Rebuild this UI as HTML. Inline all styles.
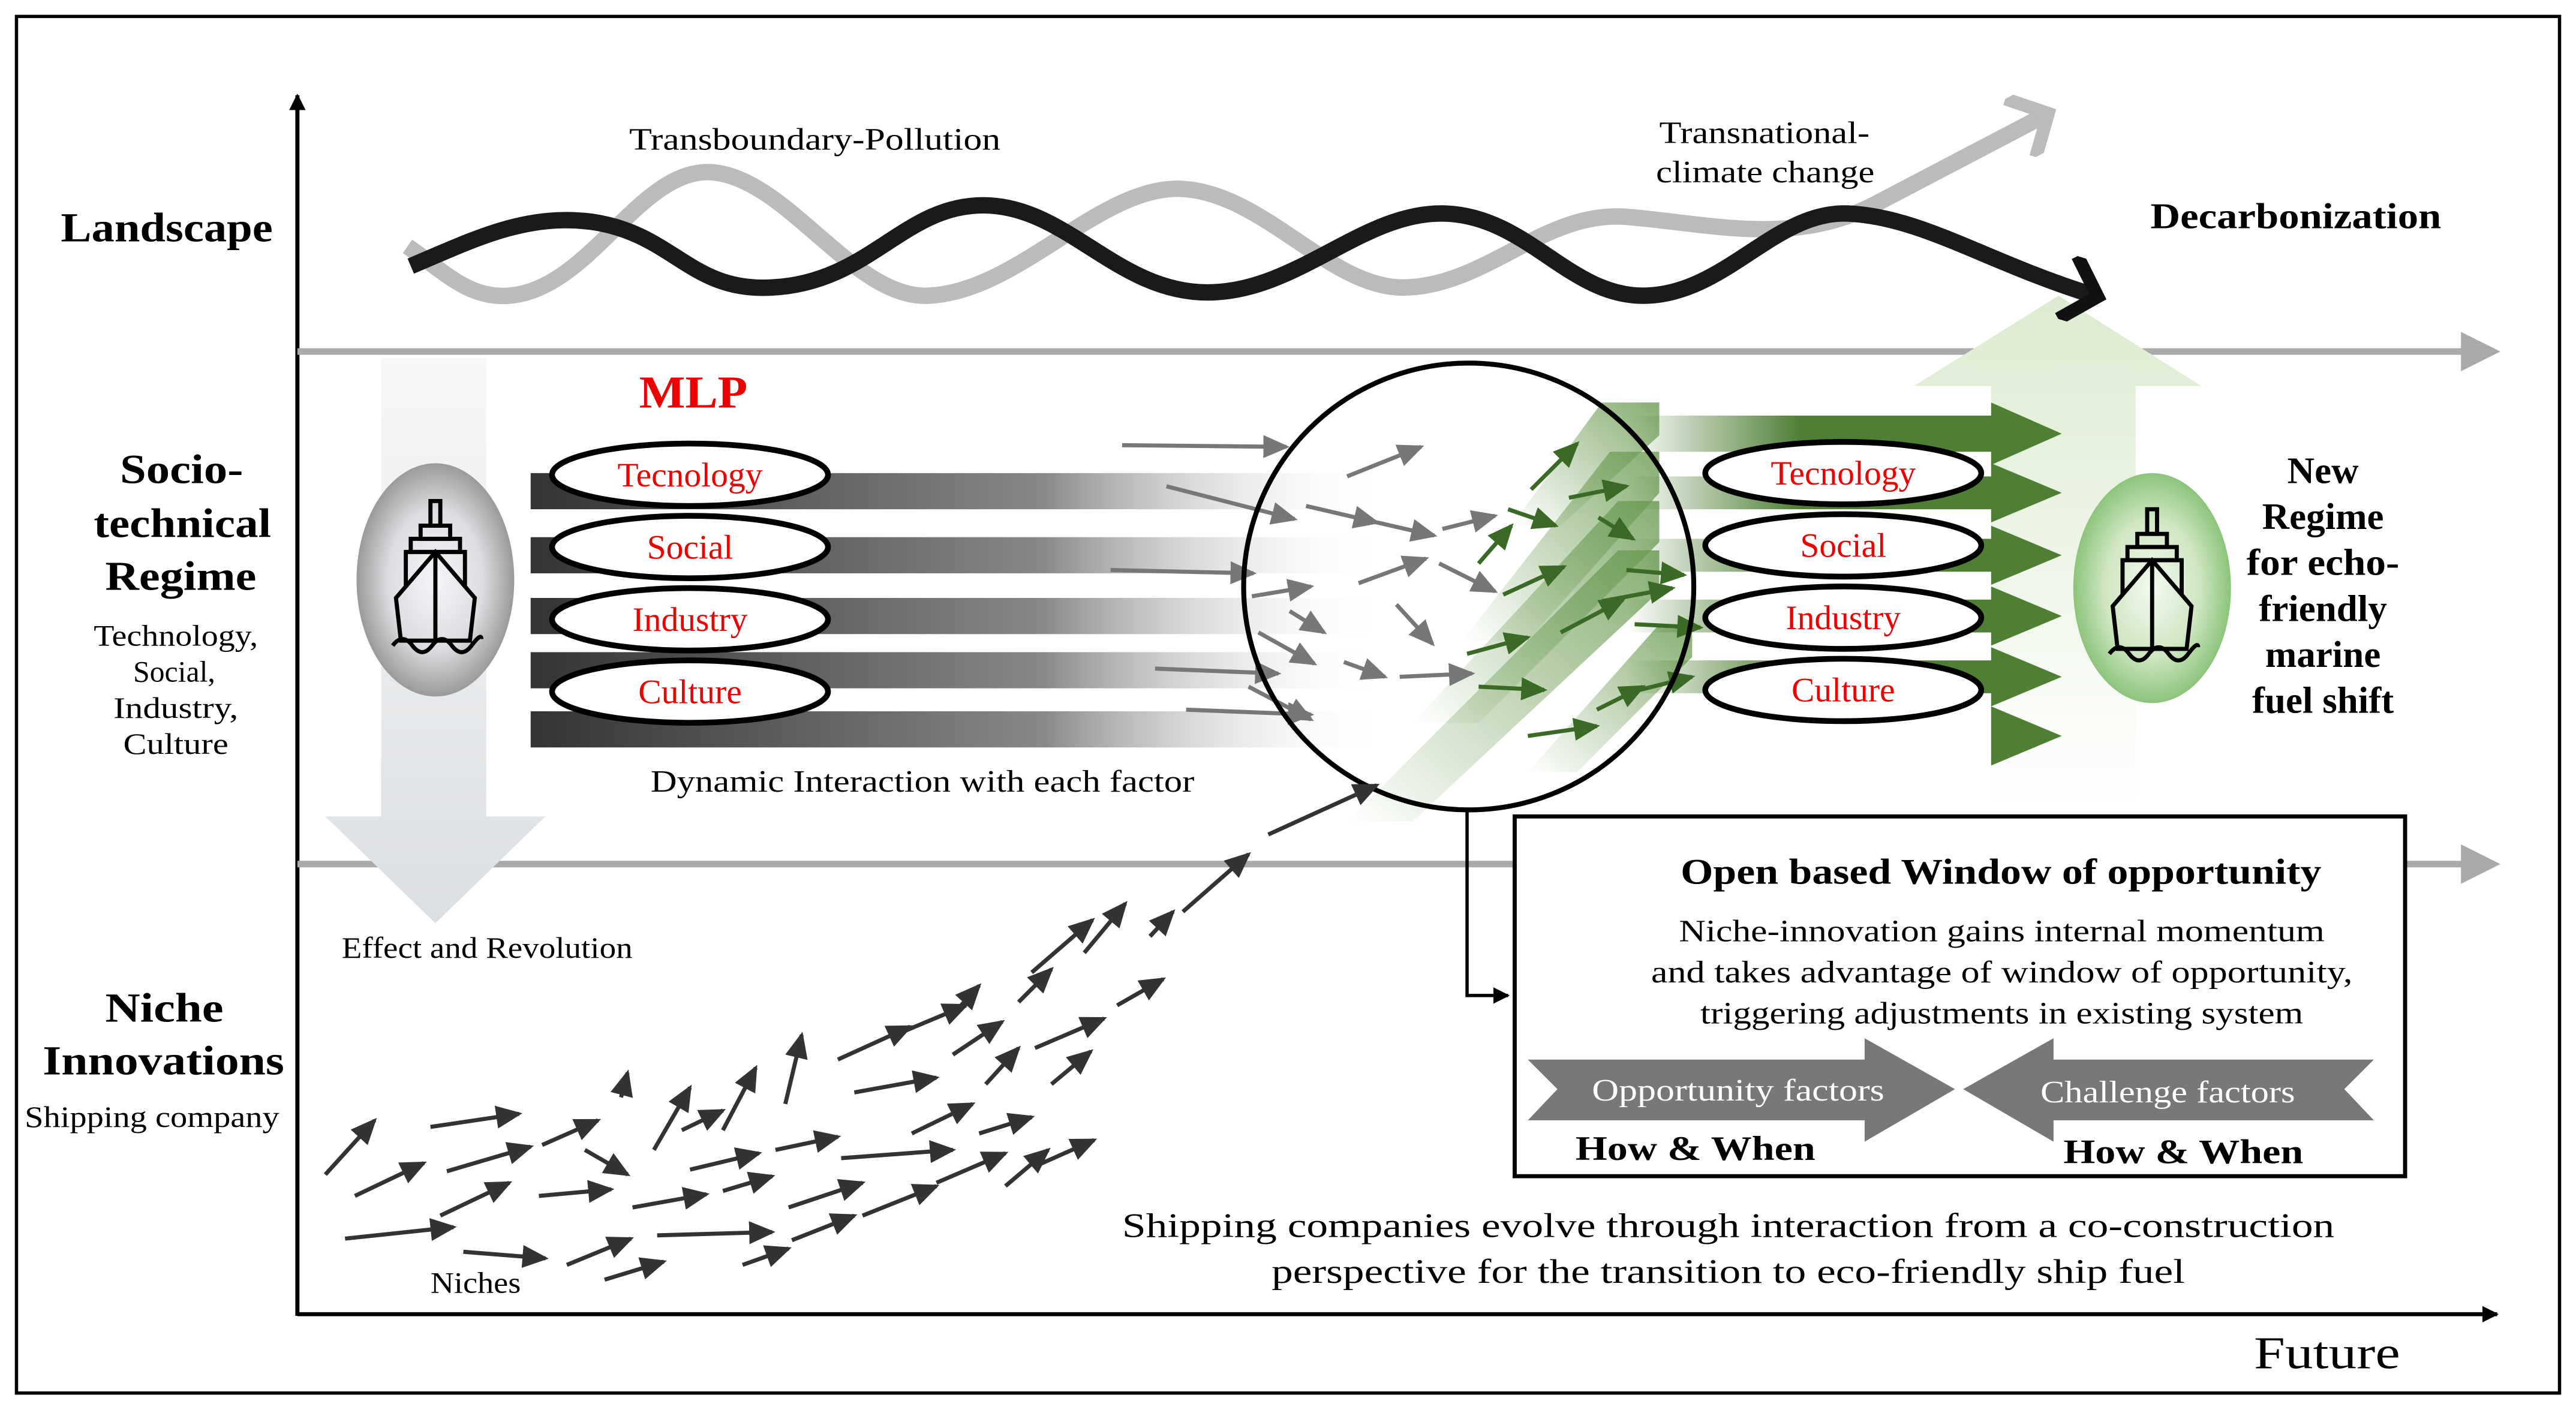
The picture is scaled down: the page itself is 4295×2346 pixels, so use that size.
<!DOCTYPE html>
<html><head><meta charset="utf-8"><style>html,body{margin:0;padding:0;background:#fff}svg{display:block}text{font-family:"Liberation Serif",serif}</style></head><body>
<svg width="4295" height="2346" viewBox="0 0 1568 856.5" xmlns="http://www.w3.org/2000/svg">
<defs>
<marker id="ak" markerWidth="10" markerHeight="10" refX="9" refY="5" orient="auto" markerUnits="userSpaceOnUse" viewBox="0 0 10 10"><path d="M0,0 L10,5 L0,10 z" fill="#000"/></marker>
<marker id="ag" markerWidth="6" markerHeight="6" refX="5" refY="3" orient="auto" viewBox="0 0 6 6"><path d="M0,0 L6,3 L0,6 z" fill="#aaa"/></marker>
<marker id="ad" markerWidth="16" markerHeight="14" refX="14" refY="7" orient="auto" markerUnits="userSpaceOnUse" viewBox="0 0 16 14"><path d="M0,0 L16,7 L0,14 z" fill="#333"/></marker>
<marker id="am" markerWidth="16" markerHeight="14" refX="14" refY="7" orient="auto" markerUnits="userSpaceOnUse" viewBox="0 0 16 14"><path d="M0,0 L16,7 L0,14 z" fill="#777"/></marker>
<marker id="agr" markerWidth="16" markerHeight="14" refX="14" refY="7" orient="auto" markerUnits="userSpaceOnUse" viewBox="0 0 16 14"><path d="M0,0 L16,7 L0,14 z" fill="#3a6a25"/></marker>
<marker id="wb" markerWidth="4" markerHeight="4" refX="2" refY="2" orient="auto" viewBox="0 0 4 4"><path d="M0.3,0 L2.2,2 L0.3,4" fill="none" stroke="#111" stroke-width="0.8"/></marker>
<marker id="wg" markerWidth="4" markerHeight="4" refX="2" refY="2" orient="auto" viewBox="0 0 4 4"><path d="M0.3,0 L2.2,2 L0.3,4" fill="none" stroke="#bbb" stroke-width="0.8"/></marker>
<linearGradient id="gbar" x1="0" x2="1"><stop offset="0" stop-color="#333"/><stop offset="0.6" stop-color="#888"/><stop offset="1" stop-color="#fff" stop-opacity="0"/></linearGradient>
<linearGradient id="gdown" x1="0" y1="0" x2="0" y2="1"><stop offset="0" stop-color="#f6f7f8"/><stop offset="1" stop-color="#dcdfe2"/></linearGradient>
<linearGradient id="gup" x1="0" y1="1" x2="0" y2="0"><stop offset="0" stop-color="#fff"/><stop offset="1" stop-color="#dcebd0"/></linearGradient>
<linearGradient id="ggr" x1="0" x2="1"><stop offset="0" stop-color="#4f7f35" stop-opacity="0"/><stop offset="0.4" stop-color="#4f7f35"/><stop offset="1" stop-color="#4f7f35"/></linearGradient>
<linearGradient id="gdiag" x1="0" y1="1" x2="1" y2="0"><stop offset="0" stop-color="#6a9a50" stop-opacity="0"/><stop offset="1" stop-color="#6a9a50" stop-opacity="0.8"/></linearGradient>
<radialGradient id="rgray"><stop offset="0" stop-color="#f4f6f9"/><stop offset="0.6" stop-color="#dcdde0"/><stop offset="1" stop-color="#9a9a9a"/></radialGradient>
<radialGradient id="rgreen"><stop offset="0" stop-color="#f4faf0"/><stop offset="0.6" stop-color="#cfe6c2"/><stop offset="1" stop-color="#8cc47a"/></radialGradient>
</defs>
<rect x="10" y="10" width="1548" height="838" fill="none" stroke="#000" stroke-width="2"/>
<line x1="181" y1="801" x2="181" y2="58" stroke="#000" stroke-width="2.5" marker-end="url(#ak)"/>
<line x1="181" y1="800" x2="1520" y2="800" stroke="#000" stroke-width="2.5" marker-end="url(#ak)"/>
<line x1="181" y1="214" x2="1518" y2="214" stroke="#aaa" stroke-width="4" marker-end="url(#ag)"/>
<line x1="181" y1="526" x2="1518" y2="526" stroke="#aaa" stroke-width="4" marker-end="url(#ag)"/>
<polygon points="1212,490 1212,235 1165,235 1253,180 1340,235 1300,235 1300,490" fill="url(#gup)"/>
<polygon points="232,218 296,218 296,497 332,497 265,562 198,497 232,497" fill="url(#gdown)"/>
<path d="M248,150 C270,165 285,182 310,180 C360,176 390,100 435,105 C480,110 520,182 565,180 C620,178 670,112 720,115 C770,118 810,176 855,175 C905,174 940,128 990,132 C1040,136 1090,150 1140,125 L1245,70" fill="none" stroke="#bbb" stroke-width="10" marker-end="url(#wg)"/>
<path d="M250,162 C290,145 320,130 360,135 C410,142 420,178 470,175 C530,172 550,124 600,125 C650,126 680,178 735,178 C790,178 830,128 880,130 C930,132 955,180 1000,180 C1050,180 1080,128 1125,130 C1170,132 1210,160 1275,180" fill="none" stroke="#1a1a1a" stroke-width="10" marker-end="url(#wb)"/>
<text x="383" y="91" font-size="19" textLength="226" lengthAdjust="spacingAndGlyphs">Transboundary-Pollution</text>
<text x="1010" y="87" font-size="19" textLength="128" lengthAdjust="spacingAndGlyphs">Transnational-</text>
<text x="1008" y="111" font-size="19" textLength="133" lengthAdjust="spacingAndGlyphs">climate change</text>
<text x="1309" y="139" font-size="22" font-weight="bold" textLength="177" lengthAdjust="spacingAndGlyphs">Decarbonization</text>
<text x="37" y="147" font-size="25" font-weight="bold" textLength="129" lengthAdjust="spacingAndGlyphs">Landscape</text>
<g font-size="25" font-weight="bold">
<text x="73" y="294" textLength="75" lengthAdjust="spacingAndGlyphs">Socio-</text>
<text x="57" y="327" textLength="108" lengthAdjust="spacingAndGlyphs">technical</text>
<text x="64" y="359" textLength="92" lengthAdjust="spacingAndGlyphs">Regime</text>
<text x="64" y="622" textLength="72" lengthAdjust="spacingAndGlyphs">Niche</text>
<text x="26" y="654" textLength="147" lengthAdjust="spacingAndGlyphs">Innovations</text></g>
<g font-size="18">
<text x="57" y="393" textLength="100" lengthAdjust="spacingAndGlyphs">Technology,</text>
<text x="81" y="415" textLength="50" lengthAdjust="spacingAndGlyphs">Social,</text>
<text x="69" y="437" textLength="76" lengthAdjust="spacingAndGlyphs">Industry,</text>
<text x="75" y="459" textLength="64" lengthAdjust="spacingAndGlyphs">Culture</text>
<text x="15" y="686" textLength="155" lengthAdjust="spacingAndGlyphs">Shipping company</text></g>
<g fill="url(#gbar)">
<rect x="323" y="288" width="520" height="22"/><rect x="323" y="327" width="520" height="22"/><rect x="323" y="364" width="520" height="22"/><rect x="323" y="397" width="520" height="22"/><rect x="323" y="433" width="520" height="22"/>
</g>
<g fill="url(#gdiag)">
<polygon points="820,500 860,500 1010,360 1010,335 985,335"/>
<polygon points="860,440 900,440 1010,330 1010,305 985,305"/>
<polygon points="890,390 930,390 1010,300 1010,275 980,275"/>
<polygon points="920,320 950,320 1010,265 1010,245 975,245"/>
<polygon points="930,470 960,470 1030,400 1030,380 1010,380"/>
</g>
<g fill="url(#ggr)">
<polygon points="990,253 1212,253 1212,245 1255,264 1212,283 1212,275 990,275"/>
<polygon points="990,290 1212,290 1212,282 1255,300 1212,318 1212,310 990,310"/>
<polygon points="990,328 1212,328 1212,320 1255,338 1212,356 1212,348 990,348"/>
<polygon points="990,365 1212,365 1212,357 1255,375 1212,393 1212,385 990,385"/>
<polygon points="990,402 1212,402 1212,394 1255,412 1212,430 1212,422 990,422"/>
</g>
<polygon points="1212,430 1255,448 1212,466" fill="#4f7f35"/>
<g stroke="#777" stroke-width="2.5" marker-end="url(#am)">
<line x1="683" y1="271" x2="783" y2="272"/><line x1="710" y1="296" x2="788" y2="316"/><line x1="676" y1="347" x2="763" y2="349"/><line x1="703" y1="407" x2="778" y2="410"/><line x1="722" y1="432" x2="798" y2="435"/>
<line x1="820" y1="290" x2="865" y2="272"/><line x1="795" y1="308" x2="838" y2="318"/><line x1="838" y1="318" x2="873" y2="326"/><line x1="878" y1="322" x2="910" y2="314"/>
<line x1="762" y1="363" x2="798" y2="357"/><line x1="785" y1="372" x2="806" y2="385"/><line x1="827" y1="355" x2="868" y2="340"/><line x1="876" y1="343" x2="910" y2="360"/><line x1="850" y1="368" x2="872" y2="392"/>
<line x1="766" y1="385" x2="800" y2="404"/><line x1="818" y1="403" x2="843" y2="412"/><line x1="852" y1="412" x2="896" y2="410"/><line x1="760" y1="418" x2="798" y2="438"/>
</g>
<g stroke="#3a6a25" stroke-width="2.5" marker-end="url(#agr)">
<line x1="932" y1="298" x2="960" y2="270"/><line x1="955" y1="303" x2="990" y2="296"/><line x1="900" y1="343" x2="920" y2="320"/><line x1="918" y1="310" x2="947" y2="320"/>
<line x1="973" y1="315" x2="994" y2="328"/><line x1="915" y1="362" x2="952" y2="345"/><line x1="893" y1="398" x2="930" y2="388"/><line x1="990" y1="347" x2="1025" y2="350"/>
<line x1="950" y1="385" x2="988" y2="365"/><line x1="975" y1="366" x2="1018" y2="358"/><line x1="995" y1="380" x2="1035" y2="382"/><line x1="900" y1="418" x2="940" y2="420"/>
<line x1="930" y1="448" x2="972" y2="442"/><line x1="972" y1="432" x2="1000" y2="418"/><line x1="998" y1="420" x2="1030" y2="412"/>
</g>
<ellipse cx="894" cy="357" rx="137" ry="136" fill="none" stroke="#000" stroke-width="3"/>
<g stroke="#000" stroke-width="3.5" fill="#fff">
<ellipse cx="420" cy="289" rx="84" ry="19"/><ellipse cx="420" cy="333" rx="84" ry="19"/><ellipse cx="420" cy="377" rx="84" ry="19"/><ellipse cx="420" cy="421" rx="84" ry="19"/>
<ellipse cx="1122" cy="288" rx="84" ry="19"/><ellipse cx="1122" cy="332" rx="84" ry="19"/><ellipse cx="1122" cy="376" rx="84" ry="19"/><ellipse cx="1122" cy="420" rx="84" ry="19"/>
</g>
<g fill="#e00" font-size="21" text-anchor="middle">
<text x="420" y="296">Tecnology</text><text x="420" y="340">Social</text><text x="420" y="384">Industry</text><text x="420" y="428">Culture</text>
<text x="1122" y="295">Tecnology</text><text x="1122" y="339">Social</text><text x="1122" y="383">Industry</text><text x="1122" y="427">Culture</text>
</g>
<text x="389" y="248" fill="#e00" font-size="28" font-weight="bold" textLength="66" lengthAdjust="spacingAndGlyphs">MLP</text>
<text x="396" y="482" font-size="19" textLength="331" lengthAdjust="spacingAndGlyphs">Dynamic Interaction with each factor</text>
<ellipse cx="265" cy="353" rx="48" ry="71" fill="url(#rgray)"/>
<ellipse cx="1310" cy="358" rx="48" ry="70" fill="url(#rgreen)"/>
<g id="ship" fill="none" stroke="#000" stroke-width="2.5">
<rect x="262" y="305" width="6" height="15"/><rect x="256" y="320" width="18" height="8"/><rect x="250" y="328" width="30" height="8"/><path d="M247,336 L283,336 L283,357 L289,364 L286,390 L244,390 L241,364 L247,357 Z"/><path d="M265,336 L265,390 M247,357 L265,336 L283,357"/><path d="M239,393 q6,-8 12,0 t12,0 t12,0 t12,0 t6,-4"/>
</g>
<use href="#ship" x="1045" y="5"/>
<g font-size="23" font-weight="bold" text-anchor="middle"><text x="1414" y="294">New</text><text x="1414" y="322">Regime</text><text x="1414" y="350" textLength="93" lengthAdjust="spacingAndGlyphs">for echo-</text><text x="1414" y="378">friendly</text><text x="1414" y="406">marine</text><text x="1414" y="434">fuel shift</text></g>
<polyline points="893,493 893,606 918,606" fill="none" stroke="#000" stroke-width="2" marker-end="url(#ak)"/>
<rect x="922" y="497" width="542" height="219" fill="#fff" stroke="#000" stroke-width="2.5"/>
<text x="1023" y="538" font-size="22" font-weight="bold" textLength="390" lengthAdjust="spacingAndGlyphs">Open based Window of opportunity</text>
<g font-size="19">
<text x="1022" y="573" textLength="393" lengthAdjust="spacingAndGlyphs">Niche-innovation gains internal momentum</text>
<text x="1005" y="598" textLength="427" lengthAdjust="spacingAndGlyphs">and takes advantage of window of opportunity,</text>
<text x="1035" y="623" textLength="367" lengthAdjust="spacingAndGlyphs">triggering adjustments in existing system</text></g>
<polygon points="930,645 1135,645 1135,632 1190,663 1135,695 1135,682 930,682 948,663" fill="#787878"/>
<polygon points="1445,645 1250,645 1250,632 1195,663 1250,695 1250,682 1445,682 1427,663" fill="#787878"/>
<text x="969" y="670" font-size="19" fill="#fff" textLength="178" lengthAdjust="spacingAndGlyphs">Opportunity factors</text>
<text x="1242" y="671" font-size="19" fill="#fff" textLength="155" lengthAdjust="spacingAndGlyphs">Challenge factors</text>
<text x="959" y="706" font-size="21" font-weight="bold" textLength="146" lengthAdjust="spacingAndGlyphs">How &amp; When</text>
<text x="1256" y="708" font-size="21" font-weight="bold" textLength="146" lengthAdjust="spacingAndGlyphs">How &amp; When</text>
<g font-size="21">
<text x="683" y="753" textLength="738" lengthAdjust="spacingAndGlyphs">Shipping companies evolve through interaction from a co-construction</text>
<text x="774" y="781" textLength="556" lengthAdjust="spacingAndGlyphs">perspective for the transition to eco-friendly ship fuel</text></g>
<text x="1372" y="833" font-size="28" textLength="89" lengthAdjust="spacingAndGlyphs">Future</text>
<text x="208" y="583" font-size="18" textLength="177" lengthAdjust="spacingAndGlyphs">Effect and Revolution</text>
<text x="262" y="787" font-size="18" textLength="55" lengthAdjust="spacingAndGlyphs">Niches</text>
<g stroke="#333" stroke-width="2.5" marker-end="url(#ad)">
<line x1="198" y1="715" x2="228" y2="682"/><line x1="216" y1="728" x2="258" y2="708"/><line x1="262" y1="686" x2="316" y2="678"/><line x1="272" y1="713" x2="323" y2="698"/><line x1="210" y1="754" x2="276" y2="747"/><line x1="268" y1="740" x2="310" y2="720"/><line x1="282" y1="762" x2="332" y2="766"/>
<line x1="330" y1="697" x2="364" y2="682"/><line x1="345" y1="770" x2="384" y2="754"/><line x1="356" y1="700" x2="382" y2="715"/><line x1="328" y1="728" x2="372" y2="724"/><line x1="368" y1="779" x2="404" y2="768"/><line x1="378" y1="668" x2="382" y2="653"/><line x1="398" y1="700" x2="420" y2="662"/>
<line x1="385" y1="735" x2="430" y2="727"/><line x1="400" y1="752" x2="470" y2="750"/><line x1="415" y1="688" x2="440" y2="676"/><line x1="420" y1="712" x2="462" y2="702"/><line x1="440" y1="688" x2="460" y2="650"/><line x1="440" y1="725" x2="470" y2="716"/><line x1="452" y1="770" x2="480" y2="760"/>
<line x1="478" y1="672" x2="488" y2="630"/><line x1="472" y1="700" x2="510" y2="692"/><line x1="480" y1="735" x2="525" y2="720"/><line x1="482" y1="755" x2="520" y2="740"/><line x1="510" y1="645" x2="554" y2="625"/><line x1="512" y1="705" x2="580" y2="700"/><line x1="520" y1="665" x2="570" y2="656"/>
<line x1="525" y1="740" x2="570" y2="722"/><line x1="545" y1="630" x2="588" y2="612"/><line x1="555" y1="690" x2="592" y2="672"/><line x1="570" y1="720" x2="612" y2="702"/><line x1="580" y1="642" x2="610" y2="622"/><line x1="585" y1="612" x2="596" y2="600"/><line x1="600" y1="660" x2="620" y2="638"/>
<line x1="596" y1="690" x2="628" y2="680"/><line x1="620" y1="610" x2="640" y2="590"/><line x1="628" y1="592" x2="665" y2="560"/><line x1="630" y1="638" x2="672" y2="620"/><line x1="612" y1="722" x2="638" y2="700"/><line x1="640" y1="660" x2="664" y2="640"/><line x1="630" y1="710" x2="666" y2="694"/>
<line x1="660" y1="580" x2="685" y2="550"/><line x1="680" y1="612" x2="708" y2="596"/><line x1="700" y1="570" x2="714" y2="555"/><line x1="720" y1="555" x2="760" y2="520"/><line x1="772" y1="508" x2="838" y2="478"/>
</g>
</svg>
</body></html>
